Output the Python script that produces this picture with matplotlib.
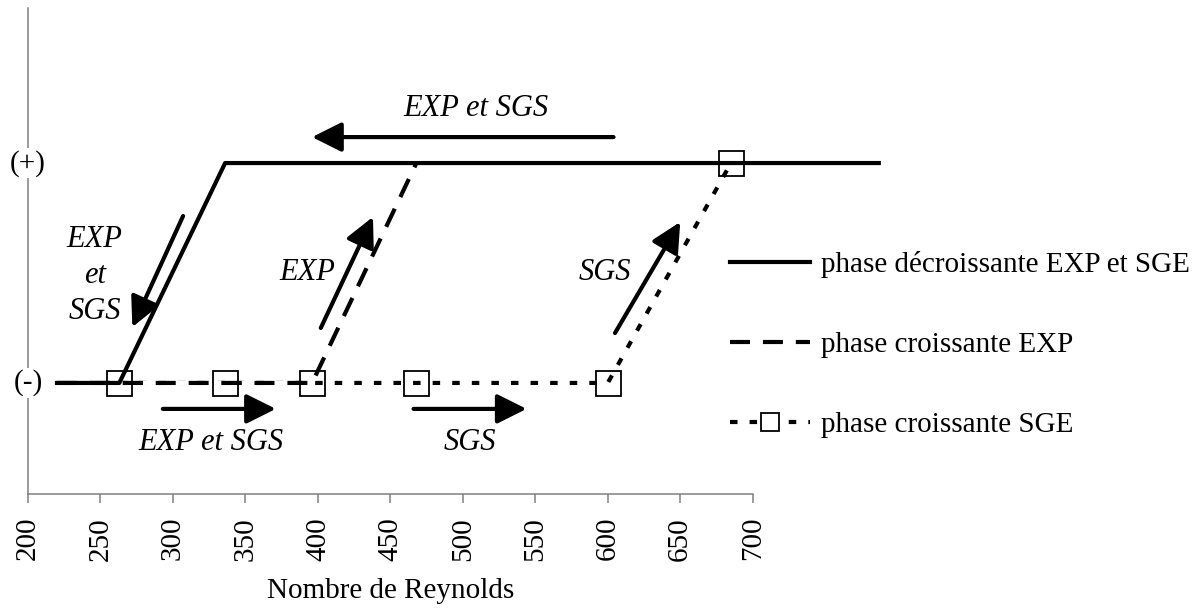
import numpy as np
import matplotlib
matplotlib.use('Agg')
import matplotlib.pyplot as plt
from matplotlib.patches import FancyArrowPatch

plt.rcParams['font.family'] = ['Liberation Serif', 'DejaVu Serif']

# courbes d'hysteresis (0 = etat (-), 1 = etat (+))
re_dec = [787, 336, 263, 220]
y_dec = [1, 1, 0, 0]
re_exp = [220, 396, 468]
y_exp = [0, 0, 1]
re_sge = [263, 336, 396, 468, 600, 685]
y_sge = [0, 0, 0, 0, 0, 1]

labels = ['phase décroissante EXP et SGE', 'phase croissante EXP', 'phase croissante SGE']
xticks = [200, 250, 300, 350, 400, 450, 500, 550, 600, 650, 700]

# fleches : (depart, arrivee) en (Re, etat)
fleches = [((604, 1.118), (396, 1.118)),
           ((307, 0.759), (272, 0.254)),
           ((293, -0.118), (371, -0.118)),
           ((466, -0.118), (544, -0.118)),
           ((402, 0.25), (438, 0.755)),
           ((605, 0.227), (650, 0.732))]
textes = [(509, 1.25, 'EXP et SGS'),
          (246, 0.49, 'EXP\net\nSGS'),
          (393, 0.5, 'EXP'),
          (598, 0.5, 'SGS'),
          (326, -0.273, 'EXP et SGS'),
          (505, -0.273, 'SGS')]

fig = plt.figure(figsize=(12.02, 6.08), dpi=100)
ax = fig.add_axes([28/1202, 114/608, 1174/1202, 486/608])

ax.plot(re_sge, y_sge, color='black', lw=3, dashes=(1.8, 2.9), zorder=1)
l_exp, = ax.plot(re_exp, y_exp, color='black', lw=3, dashes=(4.8, 3.1),
                 gapcolor='white', zorder=2, label=labels[1])
l_dec, = ax.plot(re_dec, y_dec, color='black', lw=3, zorder=3, label=labels[0])
ax.plot(re_sge, y_sge, ls='none', marker='s', ms=18, mfc='none', mec='black',
        mew=1.3, zorder=4)
l_sge, = ax.plot([], [], color='black', lw=3, dashes=(1.8, 2.9), marker='s',
                 ms=18, mfc='white', mec='black', mew=1.3, label=labels[2])

for a, b in fleches:
    ar = FancyArrowPatch(a, b, arrowstyle='-|>,head_length=18,head_width=9',
                         lw=3, color='black', shrinkA=0, shrinkB=0, zorder=5)
    ax.add_patch(ar)
for x, y, t in textes:
    ax.text(x, y, t, fontsize=22, style='italic', ha='center', va='center',
            linespacing=1.32)

ax.set_xlim(200, 1010)
ax.set_ylim(-0.505, 1.705)
ax.spines['top'].set_visible(False)
ax.spines['right'].set_visible(False)
ax.spines['bottom'].set_bounds(200, 700)
for s in ['left', 'bottom']:
    ax.spines[s].set_color('gray')
    ax.spines[s].set_linewidth(1.1)

ax.set_xticks(xticks)
ax.set_xticklabels([str(v) for v in xticks], rotation=90, fontsize=21)
ax.tick_params(axis='x', direction='out', length=6.5, width=1.1, color='gray', pad=10)
ax.set_yticks([])
ax.text(200, 1, '(+)', fontsize=21, ha='center', va='center', clip_on=False,
        bbox=dict(fc='white', ec='none', pad=1))
ax.text(200, 0, '(-)', fontsize=21, ha='center', va='center', clip_on=False,
        bbox=dict(fc='white', ec='none', pad=1))

ax.set_xlabel('Nombre de Reynolds', fontsize=21)
ax.xaxis.set_label_coords((450 - 200) / (1010 - 200), -0.172)

ax.legend(handles=[l_dec, l_exp, l_sge], loc='upper left',
          bbox_to_anchor=(730/1202, 1 - 251/608), bbox_transform=fig.transFigure,
          frameon=False, fontsize=21, borderpad=0, borderaxespad=0,
          handlelength=2.74, handletextpad=0.38, labelspacing=1.84, markerscale=0.75)

fig.savefig('out.png', dpi=100)
